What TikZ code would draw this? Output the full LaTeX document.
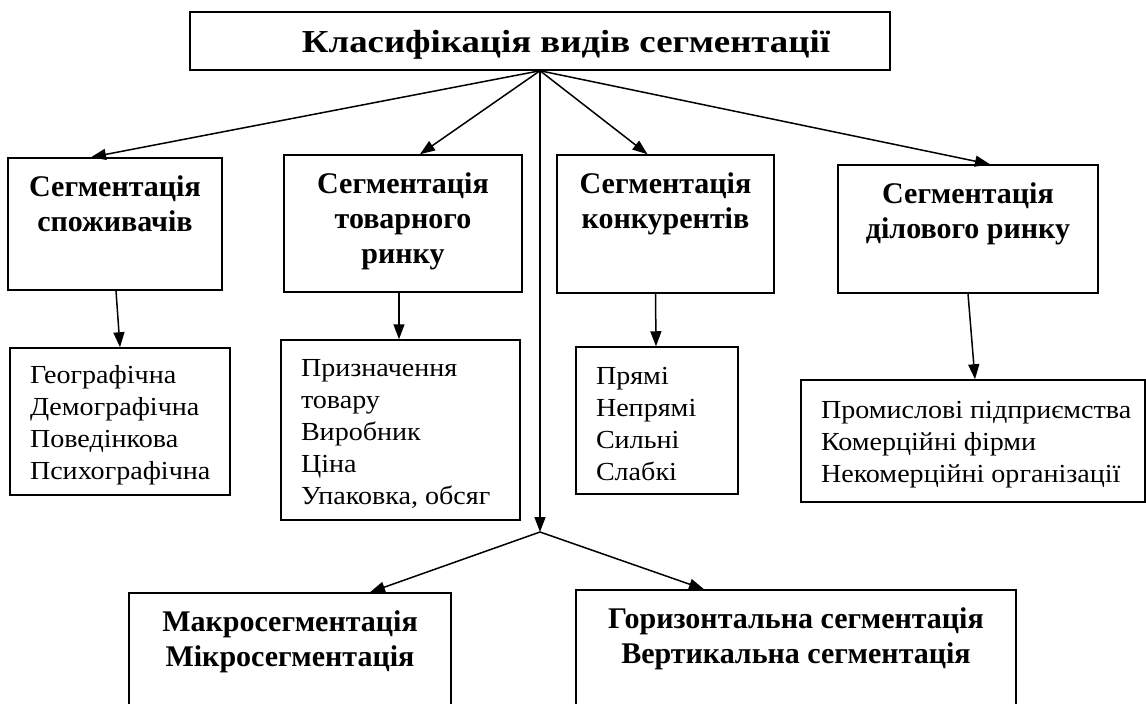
\documentclass[tikz,border=0pt]{standalone}
\usepackage{fontspec}
\setmainfont{Liberation Serif}
\newfontfamily\widefont[FakeStretch=1.15]{Liberation Serif}
\newfontfamily\listfont[FakeStretch=1.08]{Liberation Serif}
\usetikzlibrary{arrows.meta, positioning}
\tikzset{
  every picture/.style={line width=1.5pt},
  box/.style={draw, rectangle, inner sep=0pt},
  tt/.style={font=\widefont\bfseries\fontsize{32}{38}\selectfont, inner sep=0pt, anchor=center, xshift=26, yshift=-4},
  hd/.style={font=\bfseries\fontsize{30}{35}\selectfont, align=center, inner sep=0pt, anchor=north, yshift=-18},
  ls/.style={font=\listfont\fontsize{26}{32}\selectfont, align=left, inner sep=0pt, anchor=west, xshift=20, yshift=-4},
  arrow/.style={-{Triangle[length=15pt, width=11pt]}, line width=1.5pt},
}
\begin{document}
\begin{tikzpicture}[x=1pt, y=-1pt]
  \useasboundingbox (0,0) rectangle (1146,704);
  \clip (0,0) rectangle (1146,704);

  % title
  \node[box, minimum width=700, minimum height=58, label={[tt]center:{Класифікація видів сегментації}}] (title) at (540,41) {};

  % kinds of segmentation
  \node[box, minimum width=214, minimum height=132, label={[hd]north:{Сегментація\\споживачів}}] (cons) at (115,224) {};
  \node[box, minimum width=238, minimum height=137, label={[hd]north:{Сегментація\\товарного\\ринку}}] (prod) at (403,223.5) {};
  \node[box, minimum width=217, minimum height=138, label={[hd]north:{Сегментація\\конкурентів}}] (comp) at (665.5,224) {};
  \node[box, minimum width=260, minimum height=128, label={[hd]north:{Сегментація\\ділового ринку}}] (bus) at (968,229) {};

  % criteria
  \node[box, minimum width=220, minimum height=147, label={[ls]west:{Географічна\\Демографічна\\Поведінкова\\Психографічна}}] (consL) at (120,421.5) {};
  \node[box, minimum width=239, minimum height=180, label={[ls]west:{Призначення\\товару\\Виробник\\Ціна\\Упаковка, обсяг}}] (prodL) at (400.5,430) {};
  \node[box, minimum width=162, minimum height=147, label={[ls]west:{Прямі\\Непрямі\\Сильні\\Слабкі}}] (compL) at (657,420.5) {};
  \node[box, minimum width=344, minimum height=122, label={[ls]west:{Промислові підприємства\\Комерційні фірми\\Некомерційні організації}}] (busL) at (973,441) {};

  % levels, cut by the page edge
  \node[box, minimum width=322, minimum height=200, label={[hd]north:{Макросегментація\\Мікросегментація}}] (macro) at (290,693) {};
  \node[box, minimum width=440, minimum height=200, label={[hd]north:{Горизонтальна сегментація\\Вертикальна сегментація}}] (horiz) at (796,690) {};

  \coordinate (split) at (540,532);
  \draw[arrow] (title.south) -- ([xshift=-24]cons.north);
  \draw[arrow] (title.south) -- ([xshift=17]prod.north);
  \draw[arrow] (title.south) -- ([xshift=-18]comp.north);
  \draw[arrow] (title.south) -- ([xshift=22]bus.north);
  \draw[arrow] (title.south) -- (split);
  \draw[arrow] (split) -- ([xshift=80]macro.north);
  \draw[arrow] (split) -- ([xshift=-92]horiz.north);

  \draw[arrow] ([xshift=1]cons.south) -- (consL.north);
  \draw[arrow] ([xshift=-4]prod.south) -- ([xshift=-1.5]prodL.north);
  \draw[arrow] ([xshift=-10]comp.south) -- ([xshift=-1]compL.north);
  \draw[arrow] (bus.south) -- ([xshift=2]busL.north);
\end{tikzpicture}
\end{document}
